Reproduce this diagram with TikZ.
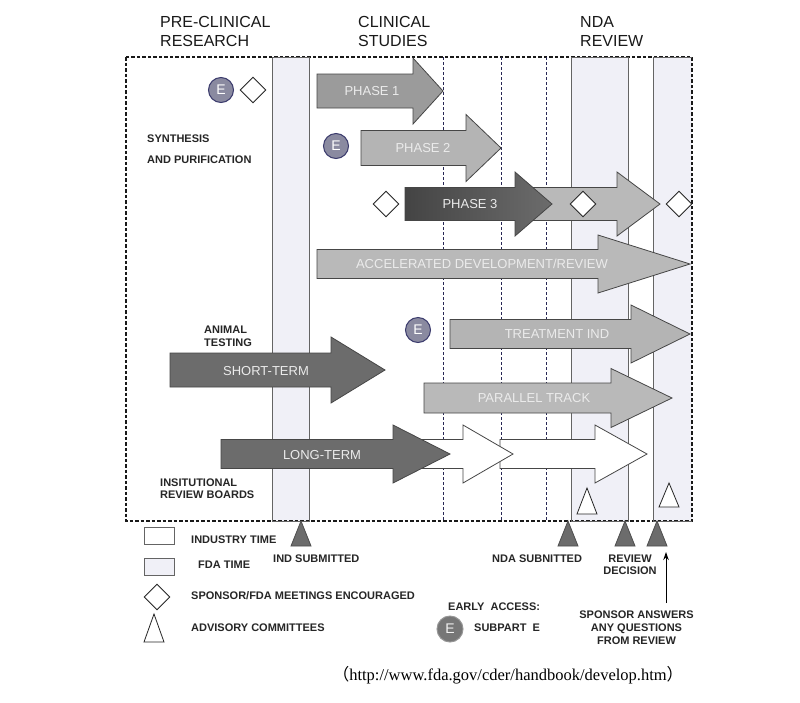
\documentclass[tikz,border=0pt]{standalone}
\usepackage{fontspec}
\setmainfont{Liberation Sans}
\newfontfamily\urlfont{Liberation Serif}
\newfontfamily\cjkfont{Noto Sans CJK SC}
\usetikzlibrary{shapes.geometric,arrows.meta}
\definecolor{bandfill}{RGB}{240,240,247}
\definecolor{bandline}{RGB}{100,100,100}
\definecolor{vdash}{RGB}{40,40,85}
\definecolor{arrline}{RGB}{70,70,70}
\definecolor{gPone}{RGB}{155,155,155}
\definecolor{gPtwo}{RGB}{180,180,180}
\definecolor{gLight}{RGB}{185,185,185}
\definecolor{gDark}{RGB}{108,108,108}
\definecolor{labtext}{RGB}{235,235,235}
\definecolor{efill}{RGB}{138,138,160}
\definecolor{eline}{RGB}{58,58,108}
\definecolor{mark}{RGB}{108,108,108}
\newcommand{\blkarrow}[7]{%
  \draw[#1] (#2,#5-#6) -- (#3,#5-#6) -- (#3,#5-#7) -- (#4,#5) -- (#3,#5+#7) -- (#3,#5+#6) -- (#2,#5+#6) -- cycle;}
\tikzset{
  head/.style={font=\fontsize{16}{18}\selectfont, anchor=base west, inner sep=0pt, text=black!90},
  lab/.style={font=\bfseries\fontsize{11}{13}\selectfont, anchor=base west, inner sep=0pt, text=black!85},
  labc/.style={font=\bfseries\fontsize{11}{13}\selectfont, anchor=base, inner sep=0pt, text=black!85},
  arrtext/.style={font=\fontsize{13}{15}\selectfont, text=labtext, inner sep=0pt},
  arrbox/.style={draw=arrline, line width=0.8pt, line join=miter},
  emark/.style={circle, draw=eline, fill=efill, line width=1pt, minimum size=25pt, inner sep=0pt, text=white, font=\fontsize{14}{14}\selectfont},
  dmark/.style={diamond, draw=black!85, fill=white, line width=0.9pt, minimum width=26pt, minimum height=26pt, inner sep=0pt},
  tmark/.style={draw=black!70, fill=mark, line width=0.8pt},
  advtri/.style={draw=black!85, fill=white, line width=0.8pt},
  bandfl/.style={fill=bandfill},
  bandln/.style={draw=bandline, line width=0.9pt},
  vline/.style={draw=vdash, line width=0.8pt, dash pattern=on 3pt off 2pt},
  outerbox/.style={draw=black!90, line width=1.2pt, dash pattern=on 3.5pt off 2pt},
}
\begin{document}
\begin{tikzpicture}[x=1pt, y=-1pt]
\useasboundingbox (0,0) rectangle (800,702);
\fill[white] (0,0) rectangle (800,702);

% FDA time bands (fill)
\fill[bandfl] (272,57) rectangle (309,521);
\fill[bandfl] (571,57) rectangle (628,521);
\fill[bandfl] (653,57) rectangle (692,521);

% outer dashed frame
\draw[outerbox] (126,57) rectangle (692,521);

% band outlines
\draw[bandln] (272,57) rectangle (309,521);
\draw[bandln] (571,57) rectangle (628,521);
\draw[bandln] (692,57) -- (653,57) -- (653,521) -- (692,521);

% dashed dividers
\draw[vline] (443,57) -- (443,521);
\draw[vline] (501,57) -- (501,521);
\draw[vline] (546,57) -- (546,521);

% headings
\node[head] (h1a) at (160,27) {PRE-CLINICAL};
\node[head] (h1b) at (160,46) {RESEARCH};
\node[head] (h2a) at (358,27) {CLINICAL};
\node[head] (h2b) at (358,46) {STUDIES};
\node[head] (h3a) at (580,27) {NDA};
\node[head] (h3b) at (580,46) {REVIEW};

% block arrows
\blkarrow{arrbox, fill=gLight}{488}{617}{660}{204}{16.5}{32}
\blkarrow{arrbox, left color={rgb,255:red,68;green,68;blue,68}, right color={rgb,255:red,108;green,108;blue,108}}{405}{515}{552}{204}{16.5}{32}
\blkarrow{arrbox, fill=gPone}{317}{413}{443}{91}{17}{33}
\blkarrow{arrbox, fill=gPtwo}{361}{466}{501}{148}{17.5}{33.5}
\blkarrow{arrbox, fill=gLight}{317}{598}{690}{264}{14.5}{29}
\blkarrow{arrbox, fill=gPtwo}{450}{631}{690}{334}{14.5}{29}
\blkarrow{arrbox, fill=gLight}{424}{611}{672}{398}{15}{29.5}
\blkarrow{arrbox, fill=gDark}{170}{331}{385}{370}{17}{33}
\blkarrow{arrbox, fill=white}{500}{595}{647}{454}{14.5}{29}
\blkarrow{arrbox, fill=white}{400}{463}{513}{454}{14.5}{29}
\blkarrow{arrbox, fill=gDark}{221}{393}{450}{454}{14.5}{29}

% arrow labels
\node[arrtext] (p1) at (372,91) {PHASE 1};
\node[arrtext] (p2) at (423,148) {PHASE 2};
\node[arrtext] (p3) at (470,204) {PHASE 3};
\node[arrtext] (acc) at (482,264) {ACCELERATED DEVELOPMENT/REVIEW};
\node[arrtext] (tind) at (557,334) {TREATMENT IND};
\node[arrtext] (ptr) at (534,398) {PARALLEL TRACK};
\node[arrtext] (st) at (266,371) {SHORT-TERM};
\node[arrtext] (lt) at (322,455) {LONG-TERM};

% side labels
\node[lab] (syn1) at (147,142) {SYNTHESIS};
\node[lab] (syn2) at (147,163) {AND PURIFICATION};
\node[lab] (an1) at (204,333) {ANIMAL};
\node[lab] (an2) at (204,346) {TESTING};
\node[lab] (irb1) at (160,486) {INSITUTIONAL};
\node[lab] (irb2) at (160,498) {REVIEW BOARDS};

% E circles and diamonds
\node[emark] (e1) at (221,90) {E};
\node[dmark] (d1) at (253,90) {};
\node[emark] (e2) at (336,146) {E};
\node[emark] (e3) at (418,330) {E};
\node[dmark] (d2) at (386,204) {};
\node[dmark] (d3) at (583,204) {};
\node[dmark] (d4) at (679,204) {};

% advisory committee triangles
\draw[advtri] (587,488) -- (597,514) -- (577,514) -- cycle;
\draw[advtri] (669,483) -- (679,507) -- (659,507) -- cycle;

% milestone triangles
\draw[tmark] (301,521) -- (311,546) -- (291,546) -- cycle;
\draw[tmark] (568,521) -- (578,546) -- (558,546) -- cycle;
\draw[tmark] (625,521) -- (635,546) -- (615,546) -- cycle;
\draw[tmark] (657,521) -- (667,546) -- (647,546) -- cycle;

\node[lab] (ind) at (273,562) {IND SUBMITTED};
\node[lab] (nda) at (492,562) {NDA SUBNITTED};
\node[labc] (rd1) at (630,562) {REVIEW};
\node[labc] (rd2) at (630,574) {DECISION};
\node[labc] (sp1) at (636.5,618) {SPONSOR ANSWERS};
\node[labc] (sp2) at (636.5,631) {ANY QUESTIONS};
\node[labc] (sp3) at (636.5,644) {FROM REVIEW};
\coordinate (spa) at (666,603);
\coordinate (spb) at (666,552);
\draw[line width=1pt, -{Stealth[length=8pt, width=5.5pt]}] (spa) -- (spb);

% legend
\draw[draw=bandline, line width=0.9pt, fill=white] (144,527) rectangle (174,544);
\draw[draw=bandline, line width=0.9pt, fill=bandfill] (144,558) rectangle (174,575);
\node[dmark] (ld) at (157,597) {};
\draw[advtri] (154,614) -- (164,642) -- (144,642) -- cycle;
\node[lab] (l1) at (191,543) {INDUSTRY TIME};
\node[lab] (l2) at (198,568) {FDA TIME};
\node[lab] (l3) at (191,599) {SPONSOR/FDA MEETINGS ENCOURAGED};
\node[lab] (l4) at (191,631) {ADVISORY COMMITTEES};

\node[lab] (ea) at (448,610) {EARLY\ \ ACCESS:};
\node[circle, draw={rgb,255:red,150;green,150;blue,150}, fill={rgb,255:red,118;green,118;blue,118}, line width=1pt, minimum size=26pt, inner sep=0pt, text=white!95!black, font=\fontsize{14}{14}\selectfont] (le) at (450,629) {E};
\node[lab] (sub) at (474,631) {SUBPART\ \ E};

% source
\node[anchor=base, inner sep=0pt, font=\fontsize{16.5}{18}\selectfont] (url) at (508,680) {{\cjkfont （}{\urlfont http://www.fda.gov/cder/handbook/develop.htm}{\cjkfont ）}};
\end{tikzpicture}
\end{document}
